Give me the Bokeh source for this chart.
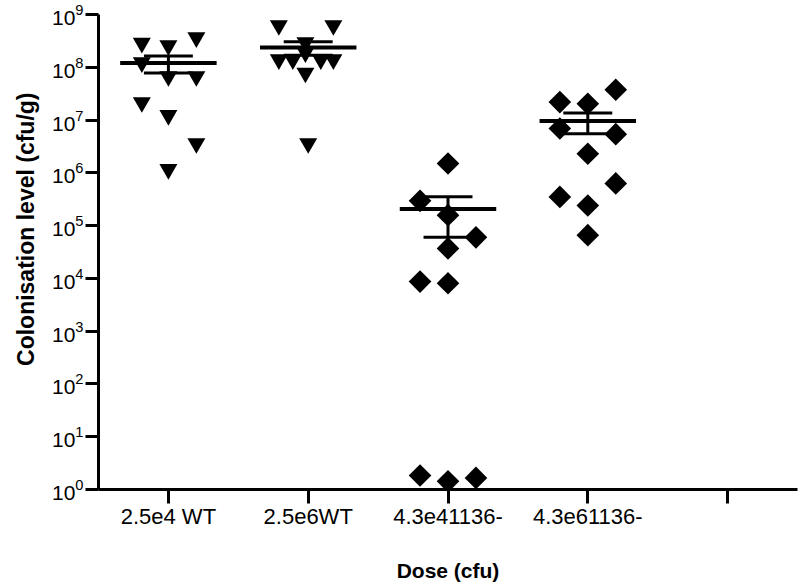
import numpy as np
from bokeh.plotting import figure
from bokeh.models import Range1d, FixedTicker, LogTickFormatter, Title
from bokeh.embed import file_html
from bokeh.resources import INLINE

# ---- data ----
tick_labels = ["2.5e4 WT", "2.5e6WT", "4.3e41136-", "4.3e61136-", ""]
x_title = "Dose (cfu)"
y_title = "Colonisation level (cfu/g)"

wt_low = [2.88e8, 2.58e8, 3.66e8, 1.23e8, 6.7e7, 6.7e7, 2.16e7, 1.23e7, 3.6e6, 1.17e6]
wt_low_jitter = [-0.19, 0.0, 0.2, -0.19, 0.0, 0.2, -0.19, 0.0, 0.2, 0.0]

wt_high = [6.2e8, 6.2e8, 2.95e8, 1.9e8, 1.4e8, 1.4e8, 1.4e8, 1.4e8, 7.8e7, 3.6e6]
wt_high_jitter = [-0.21, 0.18, -0.02, -0.02, -0.21, -0.11, 0.09, 0.18, -0.02, 0.0]

mut_low = [1.5e6, 2.95e5, 1.58e5, 6.0e4, 3.7e4, 8.7e3, 8.1e3, 1.84, 1.43, 1.66]
mut_low_jitter = [0.0, -0.2, 0.0, 0.2, 0.0, -0.2, 0.0, -0.2, 0.0, 0.2]

mut_high = [3.76e7, 2.19e7, 2.04e7, 6.9e6, 5.4e6, 2.3e6, 6.3e5, 3.5e5, 2.4e5, 6.6e4]
mut_high_jitter = [0.2, -0.2, 0.0, -0.2, 0.2, 0.0, 0.2, -0.2, 0.0, 0.0]

groups = [
    (1, wt_low, wt_low_jitter, "inverted_triangle"),
    (2, wt_high, wt_high_jitter, "inverted_triangle"),
    (3, mut_low, mut_low_jitter, "square"),
    (4, mut_high, mut_high_jitter, "square"),
]

FONT = "Liberation Sans"
TOP, BOTTOM, LEFT, RIGHT = 14, 94, 95, 1
W, H = 798, 584

p = figure(width=W, height=H, y_axis_type="log",
           x_range=Range1d(0.5, 5.5), y_range=Range1d(1, 1e9),
           output_backend="svg", toolbar_location=None,
           min_border_left=LEFT, min_border_right=RIGHT,
           min_border_top=TOP, min_border_bottom=BOTTOM)

p.grid.visible = False
p.outline_line_color = None
p.background_fill_color = "white"
p.border_fill_color = "white"

for pos, vals, jit, marker in groups:
    vals = np.asarray(vals, dtype=float)
    xs = pos + np.asarray(jit, dtype=float)
    if marker == "square":
        p.scatter(xs, vals, marker="square", size=16, angle=np.pi / 4,
                  fill_color="black", line_color=None)
    else:
        p.scatter(xs, vals, marker="inverted_triangle", size=18,
                  fill_color="black", line_color=None)
    m = vals.mean()
    sem = vals.std(ddof=1) / np.sqrt(len(vals))
    # mean line
    p.segment(x0=[pos - 0.345], y0=[m], x1=[pos + 0.345], y1=[m],
              line_color="black", line_width=4)
    # SEM bar
    p.segment(x0=[pos], y0=[m - sem], x1=[pos], y1=[m + sem],
              line_color="black", line_width=3)
    p.segment(x0=[pos - 0.175, pos - 0.175], y0=[m - sem, m + sem],
              x1=[pos + 0.175, pos + 0.175], y1=[m - sem, m + sem],
              line_color="black", line_width=3)

# x axis
xa = p.xaxis[0]
xa.ticker = FixedTicker(ticks=[1, 2, 3, 4, 5])
xa.major_label_overrides = {i + 1: lab for i, lab in enumerate(tick_labels)}
xa.major_label_text_font = FONT
xa.major_label_text_font_size = "22px"
xa.major_label_text_line_height = 1.0
xa.major_label_standoff = 0
xa.major_tick_out = 14
xa.major_tick_in = 0
xa.minor_tick_line_color = None
xa.axis_label = x_title
xa.axis_label_text_font = FONT
xa.axis_label_text_font_style = "bold"
xa.axis_label_text_font_size = "21px"
xa.axis_label_text_line_height = 1.0
xa.axis_label_standoff = 27
xa.axis_label_text_color = "black"

# y axis
ya = p.yaxis[0]
ya.ticker = FixedTicker(ticks=[10 ** i for i in range(10)])
ya.formatter = LogTickFormatter()
ya.major_label_text_font = FONT
ya.major_label_text_font_size = "21px"
ya.major_label_standoff = 2
ya.major_tick_out = 13
ya.major_tick_in = 0
ya.minor_tick_line_color = None

for ax in (xa, ya):
    ax.axis_line_width = 3
    ax.axis_line_color = "black"
    ax.major_tick_line_width = 3
    ax.major_tick_line_color = "black"
    ax.major_label_text_color = "black"

# vertical title, shifted up along the axis like the reference
p.add_layout(Title(text=y_title, align="right", offset=78,
                   vertical_align="bottom", standoff=20,
                   text_font=FONT, text_font_style="bold",
                   text_font_size="23px", text_color="black"), "left")

open("out.html", "w").write(file_html(p, INLINE))
